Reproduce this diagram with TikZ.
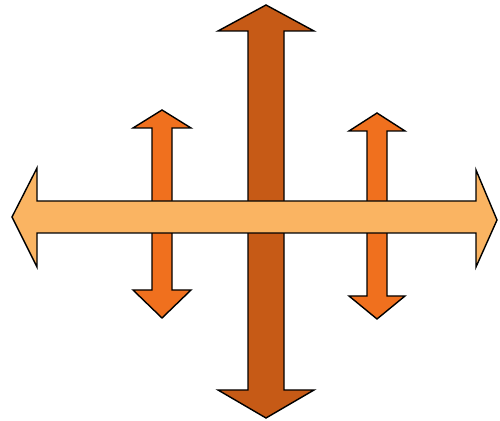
\documentclass[tikz,border=0pt]{standalone}
\usepackage{tikz}
\definecolor{darkorange}{RGB}{198,90,22}
\definecolor{midorange}{RGB}{240,112,30}
\definecolor{lightorange}{RGB}{250,180,98}
% vertical double arrow: centre x, top tip, bottom tip, half shaft, half head, top head, bottom head
\newcommand{\vertArrow}[8][]{%
  \draw[#1] (#2,#3) -- (#2+#6,#3+#7) -- (#2+#5,#3+#7) -- (#2+#5,#4-#8)
    -- (#2+#6,#4-#8) -- (#2,#4) -- (#2-#6,#4-#8) -- (#2-#5,#4-#8)
    -- (#2-#5,#3+#7) -- (#2-#6,#3+#7) -- cycle;}
\begin{document}
\begin{tikzpicture}[x=0.02cm,y=-0.02cm,
  arr/.style={draw=black,line width=0.8pt,line join=miter},
  bigarr/.style={arr,fill=darkorange},
  smallarr/.style={arr,fill=midorange},
  horarr/.style={arr,fill=lightorange}]
\useasboundingbox (0,0) rectangle (500,421);
% vertical arrows
\vertArrow[bigarr]{266}{5}{418}{18}{48}{26}{28}
\vertArrow[smallarr]{162}{110}{318}{10}{29}{18}{28}
\vertArrow[smallarr]{377}{113}{319}{10}{28}{18}{23}
% horizontal arrow on top
\draw[horarr] (12,217) -- (37,168) -- (37,201) -- (476,201) -- (476,170)
  -- (497,220) -- (476,267) -- (476,233) -- (37,233) -- (37,267) -- cycle;
\end{tikzpicture}
\end{document}
